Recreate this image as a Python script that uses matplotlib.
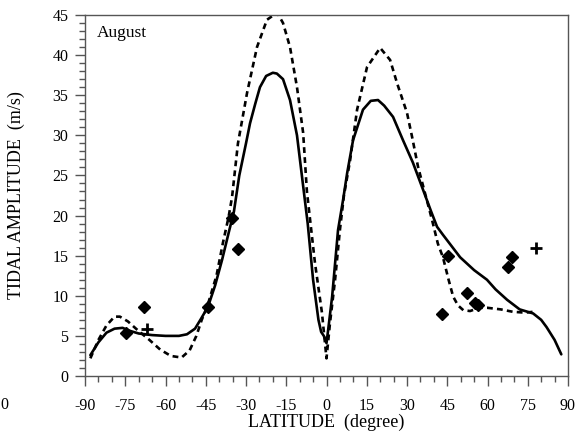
import numpy as np
import matplotlib
matplotlib.use("Agg")
from matplotlib import pyplot as plt
from matplotlib.ticker import MultipleLocator

# model curves
solid_lat = [-88, -85, -82, -79, -76, -73, -70, -65, -60, -55, -52, -49, -47, -44.2,
             -41.5, -38.9, -36.5, -34.5, -32.5, -30, -28.5, -26.5, -24.8, -22.5, -20,
             -18.5, -16.2, -13.6, -11, -9, -7, -5, -3, -2, -1, 0, 0.6, 2.1, 4.3, 6.2,
             7.7, 9.9, 13.6, 16.5, 19.2, 21.5, 24.8, 28.5, 32.2, 36, 39, 41.2, 43.4,
             49.8, 55, 59.8, 63, 67.3, 72, 77, 80, 82, 85, 87.5]
solid_amp = [2.6, 4.2, 5.4, 5.9, 6.0, 5.6, 5.3, 5.1, 5.0, 5.0, 5.2, 5.9, 7.0, 8.6,
             11.3, 14.5, 17.8, 20.5, 25.0, 29.0, 31.5, 34.0, 36.0, 37.4, 37.8,
             37.7, 37.0, 34.4, 30.0, 24.5, 19.0, 12.0, 7.0, 5.5, 5.0, 4.1, 5.7, 9.9, 18.2, 22.0,
             25.3, 29.4, 33.2, 34.3, 34.4, 33.7, 32.3, 29.4, 26.6, 23.2, 20.5, 18.6, 17.6,
             14.8, 13.2, 12.0, 10.8, 9.5, 8.3, 7.8, 7.0, 6.1, 4.5, 2.7]

dashed_lat = [-88, -85, -82, -79, -77, -74, -70, -66, -62, -58, -54, -51, -48.5, -46.5,
              -44.5, -41, -38.6, -36.5, -35.2, -33, -29.6, -25.9, -22.2, -18.4, -16.2,
              -13.6, -11, -8.7, -7.3, -4.3, -1.7, 0, 1.3, 3.2, 5, 6.5, 8.8, 11.4, 15.1,
              20, 23.7, 26.3, 30, 31.9, 34.1, 36.7, 39.3, 41.5, 43.4, 45.5, 47.2, 49,
              51, 53.5, 57, 60, 65, 69.5, 74, 77]
dashed_amp = [2.2, 4.5, 6.3, 7.4, 7.4, 6.8, 5.6, 4.5, 3.3, 2.5, 2.3, 3.2, 5.0, 7.0,
              8.6, 12.5, 16.6, 19.8, 22.3, 29.0, 35.3, 41.0, 44.4, 45.3, 44.0,
              41.0, 36.0, 30.3, 23.0, 14.1, 7.9, 2.2, 6.6, 12.0, 18.2, 22.5, 26.9, 33.2, 38.5,
              40.9, 39.4, 36.5, 32.8, 29.8, 26.1, 22.8, 19.5, 16.5, 14.8, 12.0, 9.9, 8.8,
              8.2, 8.1, 8.5, 8.5, 8.3, 8.0, 7.9, 8.0]

# observations
diamond_lat = [-74.7, -68, -44.1, -35.2, -32.9, 43, 45.3, 52.4, 55.4, 56.5, 67.7, 69.2]
diamond_amp = [5.4, 8.6, 8.6, 19.7, 15.8, 7.7, 14.9, 10.4, 9.1, 8.8, 13.6, 14.8]
plus_lat = [-67, 78.1]
plus_amp = [5.8, 16.0]

xticks = list(range(-90, 91, 15))
yticks = list(range(0, 46, 5))

plt.rcParams['font.family'] = ['Liberation Serif', 'DejaVu Serif']
plt.rcParams['axes.unicode_minus'] = False

fig = plt.figure(figsize=(5.75, 4.37), dpi=100)
ax = fig.add_axes([85/575, 61/437, 483/575, 361/437])

ax.plot(solid_lat, solid_amp, color='black', lw=1.9, solid_capstyle='round',
        solid_joinstyle='round')
ax.plot(dashed_lat, dashed_amp, color='black', lw=1.9, linestyle=(0, (2.2, 1.6)))
ax.plot(diamond_lat, diamond_amp, 'D', color='black', ms=6.5, ls='none')
ax.plot(plus_lat, plus_amp, '+', color='black', ms=9, mew=2, ls='none')

ax.set_xlim(-90, 90)
ax.set_ylim(0, 45)
ax.set_xticks(xticks)
ax.set_yticks(yticks)
ax.xaxis.set_minor_locator(MultipleLocator(5))
ax.yaxis.set_minor_locator(MultipleLocator(1))

for s in ax.spines.values():
    s.set_color('#555555')
    s.set_linewidth(1.0)

ax.tick_params(which='both', direction='out', colors='#555555', labelcolor='black',
               labelsize=11.5, top=False, right=False)
ax.tick_params(which='major', length=7, width=1.0)
ax.tick_params(which='minor', length=4, width=1.0)
ax.tick_params(axis='x', pad=9)
ax.tick_params(axis='y', pad=5)

ax.set_xlabel('LATITUDE  (degree)', fontsize=13)
ax.set_ylabel('TIDAL AMPLITUDE  (m/s)', fontsize=13)
ax.xaxis.set_label_coords(0.5, -0.105)
ax.yaxis.set_label_coords(-0.125, 0.5)

ax.text(0.025, 0.95, 'August', transform=ax.transAxes, fontsize=12.5, va='center', ha='left')

# tick label of the neighbouring panel, at the left edge
fig.text(0.5/575, 32/437, '0', fontsize=11.5, ha='left', va='center')

fig.savefig('out.png', dpi=100)
